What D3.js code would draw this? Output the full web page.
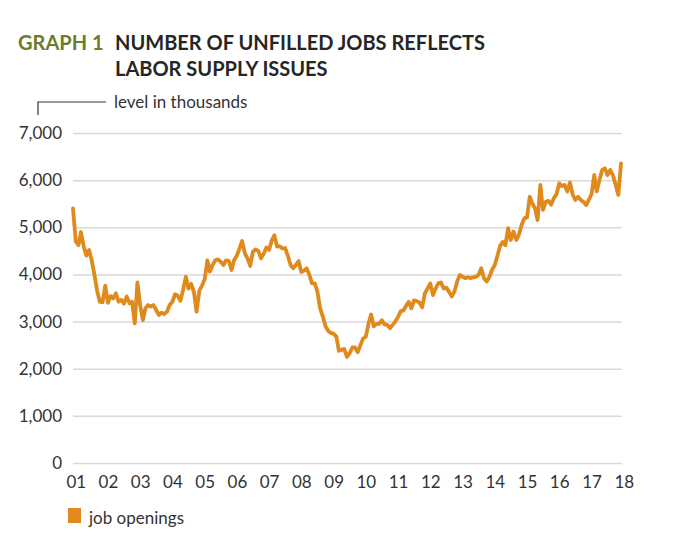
<!DOCTYPE html>
<html><head><meta charset="utf-8">
<script src="https://cdn.jsdelivr.net/npm/d3@7"></script>
<style>
body{margin:0;background:#fff;}
svg{display:block;font-family:Lato,"Open Sans",sans-serif;}
</style></head>
<body><svg id="c" width="696" height="555"></svg>
<script>
// Job openings, thousands, monthly Dec 2000 – Dec 2017
const startMonth = [2000, 11];
const jobOpenings = [
5400,4700,4620,4900,4600,4400,4520,4300,3990,3650,3420,3410,
3760,3400,3540,3490,3600,3420,3460,3380,3530,3390,3420,2960,
3830,3350,3030,3280,3350,3320,3350,3245,3140,3190,3160,3210,
3350,3420,3580,3550,3440,3670,3950,3700,3800,3630,3210,3650,
3760,3900,4300,4060,4200,4300,4320,4270,4200,4300,4290,4095,
4305,4400,4560,4710,4450,4340,4180,4480,4530,4500,4340,4440,
4570,4520,4730,4830,4590,4600,4550,4560,4400,4200,4130,4200,
4285,4050,4080,4130,3990,3810,3810,3640,3280,3100,2900,2800,
2760,2740,2680,2380,2400,2420,2250,2330,2450,2450,2350,2500,
2640,2680,2960,3150,2900,2950,2950,3030,2940,2930,2860,2930,
3000,3100,3220,3230,3330,3420,3280,3450,3436,3400,3300,3600,
3700,3810,3560,3700,3810,3830,3700,3720,3630,3530,3640,3850,
3990,3950,3920,3940,3920,3940,3950,3990,4130,3920,3850,3950,
4095,4200,4400,4600,4690,4620,4980,4730,4910,4730,4840,5050,
5190,5210,5650,5510,5400,5155,5900,5370,5540,5560,5480,5620,
5700,5930,5875,5900,5760,5950,5700,5580,5650,5580,5540,5470,
5580,5700,6110,5760,6000,6215,6250,6110,6215,6100,5900,5685,
6355
];
const yTicks = [0,1000,2000,3000,4000,5000,6000,7000];
const xTickYears = [2001,2002,2003,2004,2005,2006,2007,2008,2009,2010,2011,2012,2013,2014,2015,2016,2017,2018];
const xTickLabels = ["01","02","03","04","05","06","07","08","09","10","11","12","13","14","15","16","17","18"];
const seriesName = "job openings";

const data = jobOpenings.map((v,i)=>({date:new Date(startMonth[0], startMonth[1]+i, 1), value:v}));

const svg = d3.select("#c");
const x = d3.scaleTime().domain([data[0].date, data[data.length-1].date]).range([73, 621]);
const y = d3.scaleLinear().domain([0,7000]).range([463,133]);
const orange = "#e08a1e";

// Title
svg.append("text").attr("x",18).attr("y",50).attr("fill","#6b7d2c")
  .attr("font-size",20).attr("font-weight",700).text("GRAPH 1");
const t = svg.append("text").attr("font-size",20).attr("font-weight",700).attr("fill","#262626");
t.append("tspan").attr("x",115).attr("y",50).text("NUMBER OF UNFILLED JOBS REFLECTS");
t.append("tspan").attr("x",115).attr("y",76).text("LABOR SUPPLY ISSUES");

// unit label with bracket
svg.append("path").attr("d","M38,115V102H106").attr("fill","none").attr("stroke","#333").attr("stroke-width",1.2);
svg.append("text").attr("x",114).attr("y",108).attr("font-size",17).attr("fill","#333").text("level in thousands");

// Grid + y labels
const yAxis = d3.axisLeft(y).tickValues(yTicks).tickFormat(d3.format(",")).tickSize(-(622-73)).tickPadding(11);
const gy = svg.append("g").attr("transform","translate(73,0)").call(yAxis);
gy.select(".domain").remove();
gy.selectAll(".tick line").attr("stroke","#d9d9d9").attr("stroke-width",1.5);
gy.selectAll(".tick text").attr("font-size",17).attr("fill","#333").attr("font-family","Lato, sans-serif");

// X labels
const xAxis = d3.axisBottom(x).tickValues(xTickYears.map(yr=>new Date(yr,0,1)))
  .tickFormat((d,i)=>xTickLabels[i]).tickSize(0).tickPadding(13);
const gx = svg.append("g").attr("transform","translate(0,463)").call(xAxis);
gx.select(".domain").remove();
gx.selectAll(".tick text").attr("font-size",17).attr("fill","#333").attr("font-family","Lato, sans-serif");

// Line
svg.append("path").datum(data)
  .attr("d", d3.line().x(d=>x(d.date)).y(d=>y(d.value)))
  .attr("fill","none").attr("stroke",orange).attr("stroke-width",3.8)
  .attr("stroke-linejoin","round").attr("stroke-linecap","round");

// Legend
svg.append("rect").attr("x",68).attr("y",508).attr("width",13).attr("height",15).attr("fill",orange);
svg.append("text").attr("x",89).attr("y",524).attr("font-size",17).attr("fill","#333").text(seriesName);
</script></body></html>
